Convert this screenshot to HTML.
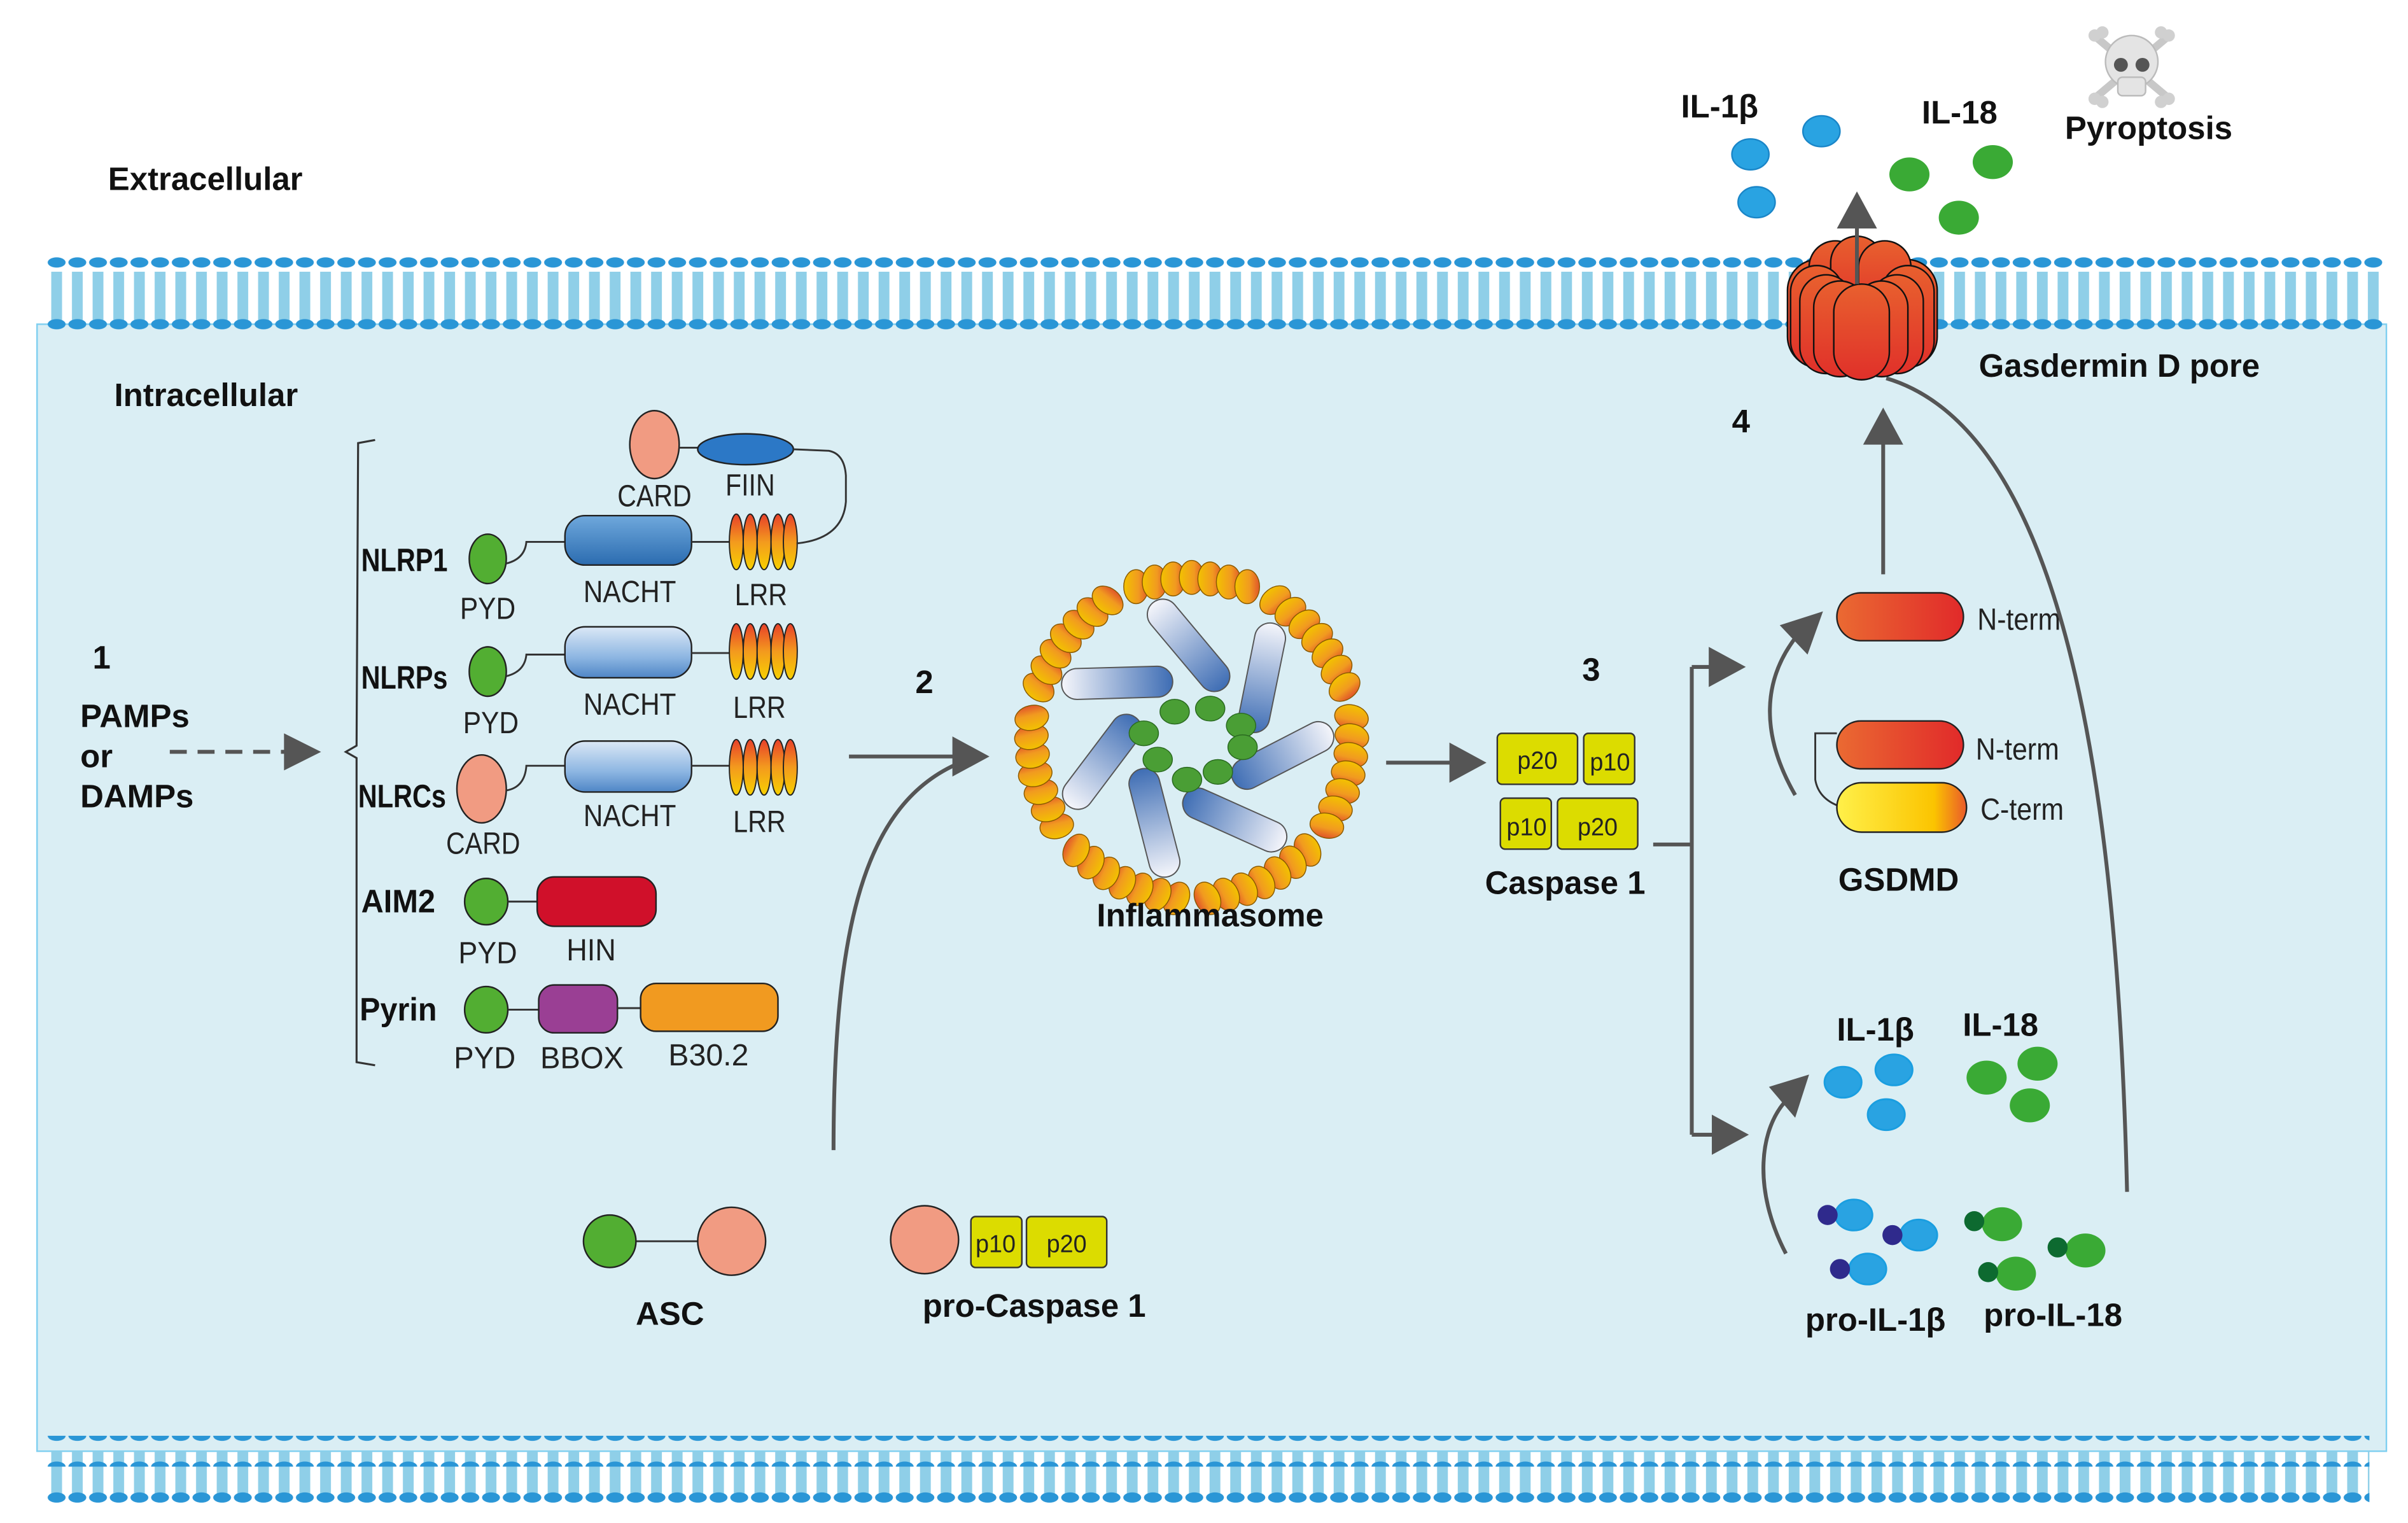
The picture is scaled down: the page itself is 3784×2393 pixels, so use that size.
<!DOCTYPE html>
<html><head><meta charset="utf-8"><style>
html,body{margin:0;padding:0;background:#fff;}
svg{display:block;}
text{font-family:"Liberation Sans",sans-serif;fill:#111;}
.b{font-weight:bold;font-size:21px;}
.d{font-family:"Liberation Sans",sans-serif;font-size:20px;fill:#222;}
.s{font-family:"Liberation Sans",sans-serif;font-size:16px;fill:#222;}
</style></head><body>
<svg width="3784" height="2393" viewBox="0 0 1560 986.5" preserveAspectRatio="none" xmlns="http://www.w3.org/2000/svg">
<defs>
<pattern id="mem" x="30" y="0" width="13.4" height="986.5" patternUnits="userSpaceOnUse">
<rect x="3.2" y="0" width="7" height="986.5" fill="#8fcfe8"/>
<path d="M4,0 l2,4 l-2,4 l2,4 l-2,4 l2,4 l-2,4 l2,4 l-2,4 l2,4 l-2,4 l2,4 M9.5,0 l-2,4 l2,4 l-2,4 l2,4 l-2,4 l2,4 l-2,4 l2,4 l-2,4 l2,4 l-2,4" stroke="#999" stroke-width="0.7" fill="none"/>
</pattern>
<pattern id="heads" x="30" y="0" width="13.4" height="20" patternUnits="userSpaceOnUse">
<ellipse cx="6.7" cy="10" rx="5.8" ry="3.3" fill="#2a96d6"/>
</pattern>
<linearGradient id="nacht1" x1="0" y1="0" x2="0" y2="1"><stop offset="0" stop-color="#6fa8dc"/><stop offset="1" stop-color="#2b6cb0"/></linearGradient>
<linearGradient id="nacht2" x1="0" y1="0" x2="0" y2="1"><stop offset="0" stop-color="#dbe8f6"/><stop offset="0.6" stop-color="#8db6e2"/><stop offset="1" stop-color="#4f86c6"/></linearGradient>
<linearGradient id="lrr" x1="0" y1="0" x2="0" y2="1"><stop offset="0" stop-color="#e8402a"/><stop offset="0.5" stop-color="#f39a1e"/><stop offset="1" stop-color="#f7d000"/></linearGradient>
<linearGradient id="bead" x1="0" y1="0" x2="1" y2="0"><stop offset="0" stop-color="#f3c200"/><stop offset="0.6" stop-color="#f19a20"/><stop offset="1" stop-color="#e0542a"/></linearGradient>
<linearGradient id="rod" x1="0" y1="0" x2="0" y2="1"><stop offset="0" stop-color="#f5f6fb"/><stop offset="1" stop-color="#3e6db4"/></linearGradient>
<linearGradient id="nterm" x1="0" y1="0" x2="1" y2="0"><stop offset="0" stop-color="#ea6a32"/><stop offset="1" stop-color="#e12a2a"/></linearGradient>
<linearGradient id="cterm" x1="0" y1="0" x2="1" y2="0"><stop offset="0" stop-color="#fff04a"/><stop offset="0.75" stop-color="#fbc400"/><stop offset="1" stop-color="#ea5a2a"/></linearGradient>
<linearGradient id="pore" x1="0" y1="0" x2="0" y2="1"><stop offset="0" stop-color="#e8602e"/><stop offset="1" stop-color="#e0302a"/></linearGradient>
<g id="seg">
<g stroke="#8a5a00" stroke-width="0.6" fill="url(#bead)">
<ellipse cx="-36" cy="-98" rx="8" ry="11"/>
<ellipse cx="-24" cy="-101" rx="8" ry="11"/>
<ellipse cx="-12" cy="-103" rx="8" ry="11"/>
<ellipse cx="0" cy="-104" rx="8" ry="11"/>
<ellipse cx="12" cy="-103" rx="8" ry="11"/>
<ellipse cx="24" cy="-101" rx="8" ry="11"/>
<ellipse cx="36" cy="-98" rx="8" ry="11"/>
</g>
<g transform="translate(-2,-60) rotate(-40)"><rect x="-10" y="-36" width="20" height="72" rx="10" fill="url(#rod)" stroke="#555" stroke-width="0.8"/></g>
</g>
</defs>

<rect x="24" y="210" width="1522" height="730" fill="#daeef4" stroke="#7fcff0" stroke-width="1"/>
<rect x="30" y="176" width="1515" height="36" fill="url(#mem)"/>
<rect x="30" y="166" width="1515" height="20" fill="url(#heads)"/>
<rect x="30" y="202" width="1515" height="20" fill="url(#heads)"/>
<rect x="30" y="940" width="1505" height="32" fill="url(#mem)"/>
<rect x="30" y="930" width="1505" height="20" fill="url(#heads)"/>
<rect x="30" y="962" width="1505" height="20" fill="url(#heads)"/>

<text x="70" y="123" class="b">Extracellular</text>
<text x="74" y="263" class="b">Intracellular</text>

<text x="60" y="433" class="b">1</text>
<text x="52" y="471" class="b">PAMPs</text>
<text x="52" y="497" class="b">or</text>
<text x="52" y="523" class="b">DAMPs</text>
<line x1="110" y1="487" x2="186" y2="487" stroke="#555" stroke-width="2.5" stroke-dasharray="11,7"/>
<path d="M184,475 L208,487 L184,499 z" fill="#555"/>
<path d="M243,285 L232,287 L231,483 L224,487 L231,491 L231,688 L243,690" fill="none" stroke="#333" stroke-width="1.3"/>

<!-- NLRP1 -->
<text x="234" y="370" class="b" textLength="56" lengthAdjust="spacingAndGlyphs">NLRP1</text>
<ellipse cx="316" cy="362" rx="12" ry="16" fill="#52ae32" stroke="#222"/>
<path d="M328,365 Q340,362 341,351 L366,351" fill="none" stroke="#333" stroke-width="1.2"/>
<rect x="366" y="334" width="82" height="32" rx="13" fill="url(#nacht1)" stroke="#222"/>
<line x1="448" y1="351" x2="473" y2="351" stroke="#333" stroke-width="1.2"/>
<g fill="url(#lrr)" stroke="#222" stroke-width="0.8"><ellipse cx="477" cy="351" rx="4.5" ry="18"/><ellipse cx="486" cy="351" rx="4.5" ry="18"/><ellipse cx="495" cy="351" rx="4.5" ry="18"/><ellipse cx="504" cy="351" rx="4.5" ry="18"/><ellipse cx="512" cy="351" rx="4.5" ry="18"/></g>
<ellipse cx="424" cy="288" rx="16" ry="22" fill="#f19b82" stroke="#222"/>
<line x1="440" y1="290" x2="452" y2="290" stroke="#333" stroke-width="1.2"/>
<ellipse cx="483" cy="291" rx="31" ry="10" fill="#2c78c6" stroke="#222"/>
<path d="M514,291 L537,292 Q547,294 548,308 L548,325 Q546,349 516,352" fill="none" stroke="#333" stroke-width="1.2"/>
<text x="424" y="328" class="d" text-anchor="middle" textLength="48" lengthAdjust="spacingAndGlyphs">CARD</text>
<text x="486" y="321" class="d" text-anchor="middle" textLength="32" lengthAdjust="spacingAndGlyphs">FIIN</text>
<text x="316" y="401" class="d" text-anchor="middle" textLength="36" lengthAdjust="spacingAndGlyphs">PYD</text>
<text x="408" y="390" class="d" text-anchor="middle" textLength="60" lengthAdjust="spacingAndGlyphs">NACHT</text>
<text x="493" y="392" class="d" text-anchor="middle" textLength="34" lengthAdjust="spacingAndGlyphs">LRR</text>

<!-- NLRPs -->
<text x="234" y="446" class="b" textLength="56" lengthAdjust="spacingAndGlyphs">NLRPs</text>
<ellipse cx="316" cy="435" rx="12" ry="16" fill="#52ae32" stroke="#222"/>
<path d="M328,438 Q340,435 341,424 L366,424" fill="none" stroke="#333" stroke-width="1.2"/>
<rect x="366" y="406" width="82" height="33" rx="13" fill="url(#nacht2)" stroke="#222"/>
<line x1="448" y1="423" x2="473" y2="423" stroke="#333" stroke-width="1.2"/>
<g fill="url(#lrr)" stroke="#222" stroke-width="0.8"><ellipse cx="477" cy="422" rx="4.5" ry="18"/><ellipse cx="486" cy="422" rx="4.5" ry="18"/><ellipse cx="495" cy="422" rx="4.5" ry="18"/><ellipse cx="504" cy="422" rx="4.5" ry="18"/><ellipse cx="512" cy="422" rx="4.5" ry="18"/></g>
<text x="318" y="475" class="d" text-anchor="middle" textLength="36" lengthAdjust="spacingAndGlyphs">PYD</text>
<text x="408" y="463" class="d" text-anchor="middle" textLength="60" lengthAdjust="spacingAndGlyphs">NACHT</text>
<text x="492" y="465" class="d" text-anchor="middle" textLength="34" lengthAdjust="spacingAndGlyphs">LRR</text>

<!-- NLRCs -->
<text x="232" y="523" class="b" textLength="57" lengthAdjust="spacingAndGlyphs">NLRCs</text>
<ellipse cx="312" cy="511" rx="16" ry="22" fill="#f19b82" stroke="#222"/>
<path d="M328,512 Q340,510 341,496 L366,496" fill="none" stroke="#333" stroke-width="1.2"/>
<rect x="366" y="480" width="82" height="33" rx="13" fill="url(#nacht2)" stroke="#222"/>
<line x1="448" y1="496" x2="473" y2="496" stroke="#333" stroke-width="1.2"/>
<g fill="url(#lrr)" stroke="#222" stroke-width="0.8"><ellipse cx="477" cy="497" rx="4.5" ry="18"/><ellipse cx="486" cy="497" rx="4.5" ry="18"/><ellipse cx="495" cy="497" rx="4.5" ry="18"/><ellipse cx="504" cy="497" rx="4.5" ry="18"/><ellipse cx="512" cy="497" rx="4.5" ry="18"/></g>
<text x="313" y="553" class="d" text-anchor="middle" textLength="48" lengthAdjust="spacingAndGlyphs">CARD</text>
<text x="408" y="535" class="d" text-anchor="middle" textLength="60" lengthAdjust="spacingAndGlyphs">NACHT</text>
<text x="492" y="539" class="d" text-anchor="middle" textLength="34" lengthAdjust="spacingAndGlyphs">LRR</text>

<!-- AIM2 -->
<text x="234" y="591" class="b" textLength="48" lengthAdjust="spacingAndGlyphs">AIM2</text>
<ellipse cx="315" cy="584" rx="14" ry="15" fill="#52ae32" stroke="#222"/>
<line x1="329" y1="584" x2="348" y2="584" stroke="#333" stroke-width="1.2"/>
<rect x="348" y="568" width="77" height="32" rx="11" fill="#d0102a" stroke="#222"/>
<text x="316" y="624" class="d" text-anchor="middle" textLength="38" lengthAdjust="spacingAndGlyphs">PYD</text>
<text x="383" y="622" class="d" text-anchor="middle" textLength="32" lengthAdjust="spacingAndGlyphs">HIN</text>

<!-- Pyrin -->
<text x="233" y="661" class="b" textLength="50" lengthAdjust="spacingAndGlyphs">Pyrin</text>
<ellipse cx="315" cy="654" rx="14" ry="15" fill="#52ae32" stroke="#222"/>
<line x1="329" y1="654" x2="349" y2="654" stroke="#333" stroke-width="1.2"/>
<rect x="349" y="638" width="51" height="31" rx="10" fill="#9a3f94" stroke="#222"/>
<line x1="400" y1="653" x2="415" y2="653" stroke="#333" stroke-width="1.2"/>
<rect x="415" y="637" width="89" height="31" rx="10" fill="#f19a20" stroke="#222"/>
<text x="314" y="692" class="d" text-anchor="middle" textLength="40" lengthAdjust="spacingAndGlyphs">PYD</text>
<text x="377" y="692" class="d" text-anchor="middle" textLength="54" lengthAdjust="spacingAndGlyphs">BBOX</text>
<text x="459" y="690" class="d" text-anchor="middle" textLength="52" lengthAdjust="spacingAndGlyphs">B30.2</text>

<!-- step 2 -->
<text x="593" y="449" class="b">2</text>
<line x1="550" y1="490" x2="620" y2="490" stroke="#555" stroke-width="2.5"/>
<path d="M617,477 L641,490 L617,503 z" fill="#555"/>
<path d="M540,745 C540,600 560,520 622,494" fill="none" stroke="#555" stroke-width="2.5"/>

<!-- inflammasome -->
<g transform="translate(772,478)">
<use href="#seg"/>
<use href="#seg" transform="rotate(51.4)"/>
<use href="#seg" transform="rotate(102.8)"/>
<use href="#seg" transform="rotate(154.2)"/>
<use href="#seg" transform="rotate(205.6)"/>
<use href="#seg" transform="rotate(257)"/>
<use href="#seg" transform="rotate(308.4)"/>
<g fill="#4a9e35" stroke="#2a6a20" stroke-width="0.6">
<ellipse cx="-11" cy="-17" rx="9.5" ry="8"/><ellipse cx="12" cy="-19" rx="9.5" ry="8"/><ellipse cx="32" cy="-8" rx="9.5" ry="8"/><ellipse cx="33" cy="6" rx="9.5" ry="8"/><ellipse cx="17" cy="22" rx="9.5" ry="8"/><ellipse cx="-3" cy="27" rx="9.5" ry="8"/><ellipse cx="-22" cy="14" rx="9.5" ry="8"/><ellipse cx="-31" cy="-3" rx="9.5" ry="8"/>
</g>
</g>
<text x="784" y="600" class="b" text-anchor="middle">Inflammasome</text>

<line x1="898" y1="494" x2="942" y2="494" stroke="#555" stroke-width="2.5"/>
<path d="M939,481 L963,494 L939,507 z" fill="#555"/>
<text x="1025" y="441" class="b">3</text>
<g fill="#dcdc00" stroke="#333" stroke-width="1">
<rect x="970" y="475" width="52" height="33" rx="3"/><rect x="1026" y="475" width="33" height="33" rx="3"/>
<rect x="972" y="517" width="33" height="33" rx="3"/><rect x="1009" y="517" width="52" height="33" rx="3"/>
</g>
<text x="996" y="498" class="s" text-anchor="middle" textLength="26" lengthAdjust="spacingAndGlyphs">p20</text>
<text x="1043" y="499" class="s" text-anchor="middle" textLength="26" lengthAdjust="spacingAndGlyphs">p10</text>
<text x="989" y="541" class="s" text-anchor="middle" textLength="26" lengthAdjust="spacingAndGlyphs">p10</text>
<text x="1035" y="541" class="s" text-anchor="middle" textLength="26" lengthAdjust="spacingAndGlyphs">p20</text>
<text x="1014" y="579" class="b" text-anchor="middle">Caspase 1</text>

<path d="M1071,547 L1096,547 M1096,432 L1096,735 M1096,432 L1110,432 M1096,735 L1112,735" fill="none" stroke="#555" stroke-width="2.5"/>
<path d="M1107,419 L1131,432 L1107,445 z" fill="#555"/>
<path d="M1109,722 L1133,735 L1109,748 z" fill="#555"/>

<!-- GSDMD -->
<rect x="1190" y="384" width="82" height="31" rx="15.5" fill="url(#nterm)" stroke="#222"/>
<text x="1281" y="408" class="d" textLength="54" lengthAdjust="spacingAndGlyphs">N-term</text>
<path d="M1190,475 L1176,475 L1176,505 Q1178,517 1191,522" fill="none" stroke="#333" stroke-width="1.2"/>
<rect x="1190" y="467" width="82" height="31" rx="15.5" fill="url(#nterm)" stroke="#222"/>
<rect x="1190" y="507" width="84" height="32" rx="16" fill="url(#cterm)" stroke="#222"/>
<text x="1280" y="492" class="d" textLength="54" lengthAdjust="spacingAndGlyphs">N-term</text>
<text x="1283" y="531" class="d" textLength="54" lengthAdjust="spacingAndGlyphs">C-term</text>
<text x="1230" y="577" class="b" text-anchor="middle">GSDMD</text>
<path d="M1163,515 C1140,475 1142,440 1164,412" fill="none" stroke="#555" stroke-width="2.5"/>
<path d="M1153,405 L1181,396 L1171,424 z" fill="#555"/>
<line x1="1220" y1="372" x2="1220" y2="285" stroke="#555" stroke-width="2.5"/>
<path d="M1207,288 L1220,264 L1233,288 z" fill="#555"/>
<text x="1122" y="280" class="b">4</text>
<path d="M1378,772 C1372,520 1340,280 1222,245" fill="none" stroke="#555" stroke-width="2.5"/>

<!-- pore -->
<g stroke="#111" stroke-width="1" fill="url(#pore)">
<rect x="1158" y="168" width="40" height="70" rx="20"/>
<rect x="1215" y="168" width="40" height="70" rx="20"/>
<rect x="1172" y="156" width="34" height="50" rx="17"/>
<rect x="1186" y="153" width="34" height="50" rx="17"/>
<rect x="1204" y="156" width="34" height="50" rx="17"/>
<rect x="1160" y="172" width="34" height="66" rx="17"/>
<rect x="1219" y="172" width="34" height="66" rx="17"/>
<rect x="1166" y="178" width="34" height="64" rx="17"/>
<rect x="1212" y="178" width="34" height="64" rx="17"/>
<rect x="1175" y="182" width="34" height="62" rx="17"/>
<rect x="1202" y="182" width="34" height="62" rx="17"/>
<rect x="1188" y="184" width="36" height="62" rx="18"/>
</g>
<line x1="1203" y1="184" x2="1203" y2="146" stroke="#555" stroke-width="2.5"/>
<path d="M1190,148 L1203,124 L1216,148 z" fill="#555"/>
<text x="1282" y="244" class="b">Gasdermin D pore</text>

<!-- extracellular -->
<text x="1089" y="76" class="b">IL-1β</text>
<text x="1245" y="80" class="b">IL-18</text>
<g fill="#29a3e2" stroke="#1a86c8" stroke-width="1"><ellipse cx="1134" cy="100" rx="12" ry="10"/><ellipse cx="1180" cy="85" rx="12" ry="10"/><ellipse cx="1138" cy="131" rx="12" ry="10"/></g>
<g fill="#3aaa35"><ellipse cx="1237" cy="113" rx="13" ry="11"/><ellipse cx="1291" cy="105" rx="13" ry="11"/><ellipse cx="1269" cy="141" rx="13" ry="11"/></g>
<g>
<g stroke="#c8c8c8" stroke-width="5" stroke-linecap="round"><line x1="1359" y1="25" x2="1403" y2="62"/><line x1="1403" y1="25" x2="1359" y2="62"/></g>
<g fill="#d0d0d0"><circle cx="1357" cy="23" r="4"/><circle cx="1362" cy="21" r="4"/><circle cx="1405" cy="23" r="4"/><circle cx="1400" cy="21" r="4"/><circle cx="1357" cy="64" r="4"/><circle cx="1362" cy="66" r="4"/><circle cx="1405" cy="64" r="4"/><circle cx="1400" cy="66" r="4"/></g>
<ellipse cx="1381" cy="40" rx="17" ry="17" fill="#e4e4e4" stroke="#bbb"/>
<rect x="1372" y="50" width="18" height="12" rx="3" fill="#e4e4e4" stroke="#bbb"/>
<circle cx="1374" cy="42" r="4.5" fill="#555"/><circle cx="1388" cy="42" r="4.5" fill="#555"/>
</g>
<text x="1392" y="90" class="b" text-anchor="middle">Pyroptosis</text>

<!-- intracellular cytokines -->
<text x="1215" y="674" class="b" text-anchor="middle">IL-1β</text>
<text x="1296" y="671" class="b" text-anchor="middle">IL-18</text>
<g fill="#29a3e2" stroke="#1a9ee0" stroke-width="1.2"><ellipse cx="1194" cy="701" rx="12" ry="10"/><ellipse cx="1227" cy="693" rx="12" ry="10"/><ellipse cx="1222" cy="722" rx="12" ry="10"/></g>
<g fill="#3aaa35"><ellipse cx="1287" cy="698" rx="13" ry="11"/><ellipse cx="1320" cy="689" rx="13" ry="11"/><ellipse cx="1315" cy="716" rx="13" ry="11"/></g>
<path d="M1157,812 C1135,770 1140,730 1158,712" fill="none" stroke="#555" stroke-width="2.5"/>
<path d="M1146,704 L1172,696 L1163,724 z" fill="#555"/>
<g fill="#29a3e2" stroke="#1a9ee0" stroke-width="1.2"><ellipse cx="1201" cy="787" rx="12" ry="10"/><ellipse cx="1243" cy="800" rx="12" ry="10"/><ellipse cx="1210" cy="822" rx="12" ry="10"/></g>
<g fill="#2f2a8c"><circle cx="1184" cy="787" r="6.5"/><circle cx="1226" cy="800" r="6.5"/><circle cx="1192" cy="822" r="6.5"/></g>
<g fill="#3aaa35"><ellipse cx="1297" cy="793" rx="13" ry="11"/><ellipse cx="1351" cy="810" rx="13" ry="11"/><ellipse cx="1306" cy="825" rx="13" ry="11"/></g>
<g fill="#0d6a30"><circle cx="1279" cy="791" r="6.5"/><circle cx="1333" cy="808" r="6.5"/><circle cx="1288" cy="824" r="6.5"/></g>
<text x="1215" y="862" class="b" text-anchor="middle">pro-IL-1β</text>
<text x="1330" y="859" class="b" text-anchor="middle">pro-IL-18</text>

<!-- ASC & pro-caspase -->
<line x1="412" y1="804" x2="452" y2="804" stroke="#333" stroke-width="1.2"/>
<circle cx="395" cy="804" r="17" fill="#52ae32" stroke="#222"/>
<circle cx="474" cy="804" r="22" fill="#f19b82" stroke="#222"/>
<text x="434" y="858" class="b" text-anchor="middle">ASC</text>
<circle cx="599" cy="803" r="22" fill="#f19b82" stroke="#222"/>
<g fill="#dcdc00" stroke="#333"><rect x="629" y="788" width="33" height="33" rx="3"/><rect x="665" y="788" width="52" height="33" rx="3"/></g>
<text x="645" y="811" class="s" text-anchor="middle" textLength="26" lengthAdjust="spacingAndGlyphs">p10</text>
<text x="691" y="811" class="s" text-anchor="middle" textLength="26" lengthAdjust="spacingAndGlyphs">p20</text>
<text x="670" y="853" class="b" text-anchor="middle">pro-Caspase 1</text>
</svg>
</body></html>
